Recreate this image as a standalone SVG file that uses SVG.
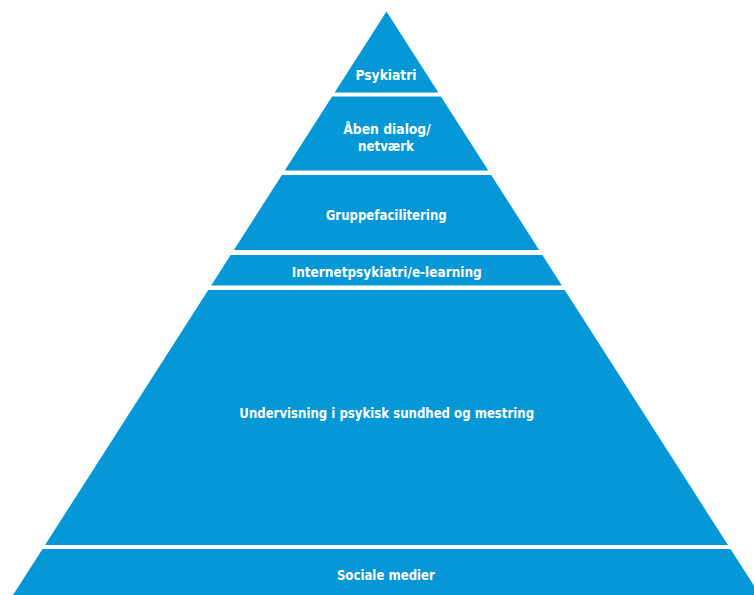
<svg xmlns="http://www.w3.org/2000/svg" width="754" height="595" viewBox="0 0 754 595">
<style>
.layer{fill:#0597d6;}
.lbl{fill:#ffffff;font-family:"DejaVu Sans","Liberation Sans",sans-serif;font-stretch:condensed;font-weight:bold;font-size:14.5px;text-anchor:middle;}
</style>
<rect x="0" y="0" width="754" height="595" fill="#ffffff"/>
<g id="psykiatri">
<polygon class="layer" points="386.5,11.5 438.34,92.5 334.66,92.5"/>
<text class="lbl" x="386" y="80" textLength="61" lengthAdjust="spacingAndGlyphs">Psykiatri</text>
</g>
<g id="aaben-dialog">
<polygon class="layer" points="332.1,96.5 440.9,96.5 488.26,170.5 284.74,170.5"/>
<text class="lbl" x="387" y="134" textLength="87.5" lengthAdjust="spacingAndGlyphs">Åben dialog/</text>
<text class="lbl" x="386" y="150.5" textLength="56" lengthAdjust="spacingAndGlyphs">netværk</text>
</g>
<g id="gruppefacilitering">
<polygon class="layer" points="281.86,175 491.14,175 539.14,250 233.86,250"/>
<text class="lbl" x="386.2" y="220" textLength="121" lengthAdjust="spacingAndGlyphs">Gruppefacilitering</text>
</g>
<g id="internetpsykiatri">
<polygon class="layer" points="230.66,255 542.34,255 561.86,285.5 211.14,285.5"/>
<text class="lbl" x="386.7" y="276.5" textLength="190" lengthAdjust="spacingAndGlyphs">Internetpsykiatri/e-learning</text>
</g>
<g id="undervisning">
<polygon class="layer" points="208.26,290 564.74,290 727.94,545 45.06,545"/>
<text class="lbl" x="386.7" y="417.5" textLength="294.7" lengthAdjust="spacingAndGlyphs">Undervisning i psykisk sundhed og mestring</text>
</g>
<g id="sociale-medier">
<polygon class="layer" points="42.5,549 730.5,549 759.94,595 13.06,595"/>
<text class="lbl" x="385.9" y="580" textLength="98" lengthAdjust="spacingAndGlyphs">Sociale medier</text>
</g>
<g id="connectors"></g>
</svg>
